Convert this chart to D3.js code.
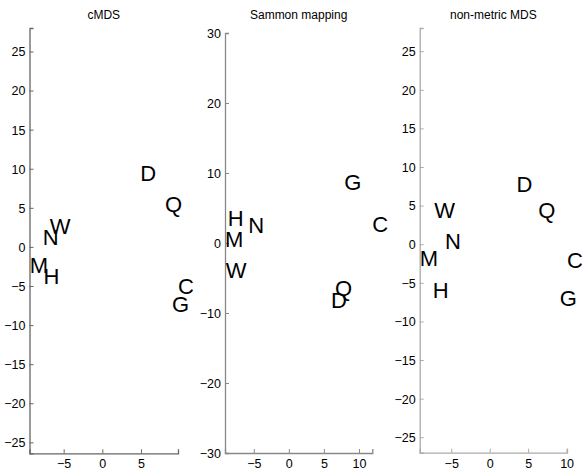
<!DOCTYPE html>
<html>
<head>
<meta charset="utf-8">
<script src="https://cdn.jsdelivr.net/npm/d3@7"></script>
<style>
  body { margin: 0; background: #fff; }
  svg { display: block; font-family: "Liberation Sans", Arial, sans-serif; }
</style>
</head>
<body>
<div id="chart"></div>
<script>
// lettres (memes pour les 3 projections)
var letters = ["C", "D", "G", "H", "M", "N", "Q", "W"];

// cMDS
var cmdsX = [9.8, 4.9, 9.0, -7.6, -9.4, -7.7, 8.1, -6.8];
var cmdsY = [-5.0, 9.4, -7.3, -3.7, -2.3, 1.3, 5.5, 2.6];

// Sammon mapping
var sammonX = [11.9, 6.0, 7.9, -8.7, -9.1, -5.8, 6.6, -9.0];
var sammonY = [2.7, -8.1, 8.7, 3.6, 0.5, 2.6, -6.5, -3.8];

// non-metric MDS
var nmdsX = [10.05, 3.5, 9.1, -7.4, -9.1, -5.8, 6.3, -7.2];
var nmdsY = [-2.0, 7.85, -7.0, -5.9, -1.8, 0.35, 4.4, 4.45];

// ticks
var ticks1X = [-5, 0, 5], ticks1Y = [-25, -20, -15, -10, -5, 0, 5, 10, 15, 20, 25];
var ticks2X = [-5, 0, 5, 10], ticks2Y = [-30, -20, -10, 0, 10, 20, 30];
var ticks3X = [-5, 0, 5, 10], ticks3Y = [-25, -20, -15, -10, -5, 0, 5, 10, 15, 20, 25];

const width = 583, height = 469;

var svg = d3.select("#chart")
            .append("svg")
            .attr("width", width)
            .attr("height", height);

var panels = [
  { title: "cMDS", xs: cmdsX, ys: cmdsY, xdom: [-9.42, 9.79], ydom: [-26.4, 28],
    xr: [29.5, 178], yr: [453.3, 28], tx: ticks1X, ty: ticks1Y, col: "#666" },
  { title: "Sammon mapping", xs: sammonX, ys: sammonY, xdom: [-9.1, 11.9], ydom: [-30, 30],
    xr: [225, 372.3], yr: [453, 33], tx: ticks2X, ty: ticks2Y, col: "#888" },
  { title: "non-metric MDS", xs: nmdsX, ys: nmdsY, xdom: [-9.1, 10.05], ydom: [-27, 28],
    xr: [419.7, 567], yr: [452.7, 28], tx: ticks3X, ty: ticks3Y, col: "#aaa" }
];

panels.forEach(function (p) {
  var x = d3.scaleLinear().domain(p.xdom).range(p.xr);
  var y = d3.scaleLinear().domain(p.ydom).range(p.yr);
  var g = svg.append("g");

  // axe y (ticks vers l'interieur, facon matlab)
  var ay = g.append("g")
    .attr("transform", "translate(" + p.xr[0] + ",0)")
    .call(d3.axisRight(y).tickValues(p.ty).tickSize(4).tickFormat(d3.format("d")));
  ay.selectAll("text").attr("x", -4).attr("text-anchor", "end");

  // axe x
  var ax = g.append("g")
    .attr("transform", "translate(0," + p.yr[0] + ")")
    .call(d3.axisTop(x).tickValues(p.tx).tickSize(4).tickFormat(d3.format("d")));
  ax.selectAll("text").attr("y", 15).attr("dy", 0);

  [ay, ax].forEach(function (a) {
    a.attr("font-family", null).attr("font-size", null);
    a.select(".domain").attr("stroke", p.col).attr("stroke-width", 1.3);
    a.selectAll(".tick line").attr("stroke", p.col);
    a.selectAll(".tick text").attr("fill", "#000").style("font-size", "12.5px");
  });
  ay.selectAll(".tick text").attr("dy", "0.35em");

  // titre
  g.append("text")
    .attr("x", (p.xr[0] + p.xr[1]) / 2)
    .attr("y", 19)
    .attr("text-anchor", "middle")
    .style("font-size", "12px")
    .text(p.title);

  // lettres
  g.selectAll(".lbl")
    .data(letters)
    .join("text")
    .attr("class", "lbl")
    .attr("x", function (d, i) { return x(p.xs[i]); })
    .attr("y", function (d, i) { return y(p.ys[i]); })
    .attr("dy", "0.36em")
    .style("font-size", "22px")
    .text(function (d) { return d; });
});
</script>
</body>
</html>
